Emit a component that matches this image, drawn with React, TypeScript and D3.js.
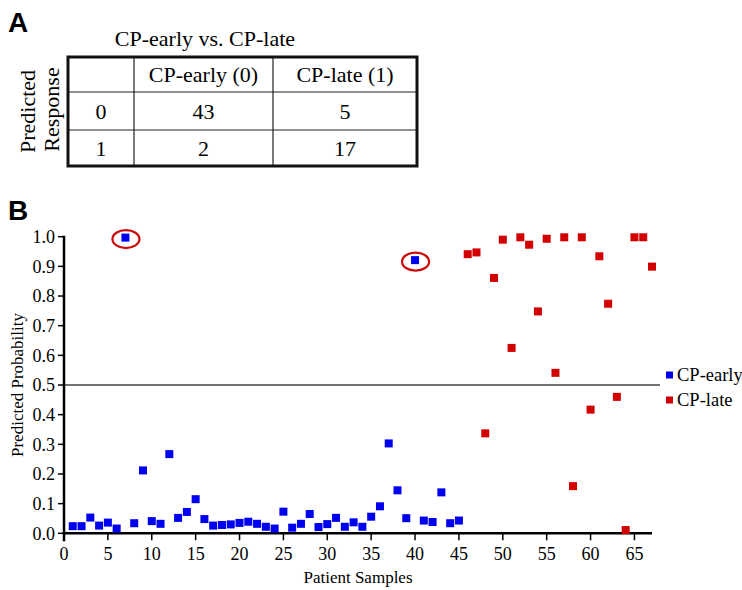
import React from 'react';
import * as d3 from 'd3';

// predicted probability per patient sample (1..45 = CP-early, 46..67 = CP-late)
const earlyValues = [
  0.024, 0.024, 0.053, 0.026, 0.036, 0.016, 0.997, 0.034, 0.212, 0.041,
  0.032, 0.267, 0.052, 0.072, 0.115, 0.048, 0.026, 0.028, 0.030, 0.035,
  0.039, 0.032, 0.022, 0.016, 0.073, 0.019, 0.032, 0.065, 0.021, 0.031,
  0.052, 0.022, 0.037, 0.022, 0.056, 0.091, 0.303, 0.145, 0.051, 0.921,
  0.043, 0.038, 0.138, 0.034, 0.043,
];
const lateValues = [
  0.941, 0.947, 0.337, 0.861, 0.990, 0.625, 0.998, 0.973, 0.748, 0.993,
  0.541, 0.998, 0.159, 0.998, 0.417, 0.934, 0.774, 0.460, 0.011, 0.998,
  0.998, 0.899,
];
const flaggedSamples = [7, 40];
const xTicks = d3.range(0, 70, 5);
const yTicks = d3.range(0, 11).map(d => d / 10);
const seriesNames = ['CP-early', 'CP-late'];

// confusion table
const tableTitle = 'CP-early vs. CP-late';
const colHeaders = ['CP-early (0)', 'CP-late (1)'];
const rowLabels = ['0', '1'];
const counts = [[43, 5], [2, 17]];

const serif = '"Liberation Serif", "Times New Roman", serif';
const sans = '"Liberation Sans", Arial, sans-serif';
const colors = ['#0000f0', '#d20000'];

const early = earlyValues.map((v, i) => ({ n: i + 1, v }));
const late = lateValues.map((v, i) => ({ n: earlyValues.length + i + 1, v }));

const App = () => {
  const width = 742;
  const height = 590;
  const plot = { left: 64, right: 652, top: 236.7, bottom: 533.3 };

  const x = d3.scaleLinear().domain([0, 67]).range([plot.left, plot.right]);
  const y = d3.scaleLinear().domain([0, 1]).range([plot.bottom, plot.top]);
  const s = 8;

  // table layout
  const colX = [68, 134, 273, 417];
  const rowY = [57, 92, 130, 166];

  return (
    <svg width={width} height={height} style={{ position: 'absolute', left: 0, top: 0, background: 'white' }}>
      {/* panel A */}
      <text x={8} y={32} fontFamily={sans} fontWeight="bold" fontSize={28}>A</text>
      <text x={205} y={46} textAnchor="middle" fontFamily={serif} fontSize={22}>{tableTitle}</text>
      <g fontFamily={serif} fontSize={22}>
        <text transform={`translate(35,${(rowY[0] + rowY[3]) / 2}) rotate(-90)`} textAnchor="middle">Predicted</text>
        <text transform={`translate(59,${(rowY[0] + rowY[3]) / 2 - 2}) rotate(-90)`} textAnchor="middle">Response</text>
        {rowY.slice(1, 3).map((ry, i) => (
          <line key={'r' + i} x1={colX[0]} x2={colX[3]} y1={ry} y2={ry} stroke="#222" strokeWidth={1.2} />
        ))}
        {colX.slice(1, 3).map((cx, i) => (
          <line key={'c' + i} x1={cx} x2={cx} y1={rowY[0]} y2={rowY[3]} stroke="#222" strokeWidth={1.2} />
        ))}
        <rect x={colX[0]} y={rowY[0]} width={colX[3] - colX[0]} height={rowY[3] - rowY[0]} fill="none" stroke="#111" strokeWidth={3} />
        {colHeaders.map((h, j) => (
          <text key={h} x={(colX[j + 1] + colX[j + 2]) / 2} y={(rowY[0] + rowY[1]) / 2} dy="0.35em" textAnchor="middle">{h}</text>
        ))}
        {rowLabels.map((r, i) => (
          <g key={r}>
            <text x={(colX[0] + colX[1]) / 2} y={(rowY[i + 1] + rowY[i + 2]) / 2} dy="0.35em" textAnchor="middle">{r}</text>
            {counts[i].map((c, j) => (
              <text key={j} x={(colX[j + 1] + colX[j + 2]) / 2} y={(rowY[i + 1] + rowY[i + 2]) / 2} dy="0.35em" textAnchor="middle">{c}</text>
            ))}
          </g>
        ))}
      </g>

      {/* panel B */}
      <text x={8} y={220} fontFamily={sans} fontWeight="bold" fontSize={28}>B</text>

      <line x1={plot.left} x2={660} y1={y(0.5)} y2={y(0.5)} stroke="#444" strokeWidth={1.5} />

      <g fontFamily={serif} fontSize={18}>
        {yTicks.map(t => (
          <g key={t}>
            <line x1={plot.left - 6} x2={plot.left} y1={y(t)} y2={y(t)} stroke="#000" strokeWidth={1.5} />
            <text x={plot.left - 9} y={y(t)} dy="0.35em" textAnchor="end">{d3.format('.1f')(t)}</text>
          </g>
        ))}
        {xTicks.map(t => (
          <g key={t}>
            <line x1={x(t)} x2={x(t)} y1={plot.bottom} y2={plot.bottom + 7} stroke="#000" strokeWidth={1.5} />
            <text x={x(t)} y={plot.bottom + 27} textAnchor="middle">{t}</text>
          </g>
        ))}
      </g>
      <line x1={plot.left} x2={plot.left} y1={plot.top - 1} y2={plot.bottom + 8} stroke="#000" strokeWidth={2.5} />
      <line x1={plot.left - 1} x2={plot.right} y1={plot.bottom} y2={plot.bottom} stroke="#000" strokeWidth={2.5} />

      <text transform={`translate(23,${(plot.top + plot.bottom) / 2}) rotate(-90)`} textAnchor="middle" fontFamily={serif} fontSize={17}>Predicted Probability</text>
      <text x={358} y={583} textAnchor="middle" fontFamily={serif} fontSize={17}>Patient Samples</text>

      {early.map(d => (
        <rect key={'e' + d.n} x={x(d.n) - s / 2} y={y(d.v) - s / 2} width={s} height={s} fill={colors[0]} />
      ))}
      {late.map(d => (
        <rect key={'l' + d.n} x={x(d.n) - s / 2} y={y(d.v) - s / 2} width={s} height={s} fill={colors[1]} />
      ))}
      {flaggedSamples.map(n => (
        <ellipse key={'f' + n} cx={x(n) + 0.5} cy={y(earlyValues[n - 1]) + 1.5} rx={13.5} ry={9} fill="none" stroke="#cc0a0a" strokeWidth={2.2} />
      ))}

      <g fontFamily={serif} fontSize={18.5}>
        {seriesNames.map((name, i) => (
          <g key={name} transform={`translate(666,${375 + i * 25})`}>
            <rect x={0} y={-3.5} width={7} height={7} fill={colors[i]} />
            <text x={11} y={0} dy="0.35em">{name}</text>
          </g>
        ))}
      </g>
    </svg>
  );
};

export default App;
